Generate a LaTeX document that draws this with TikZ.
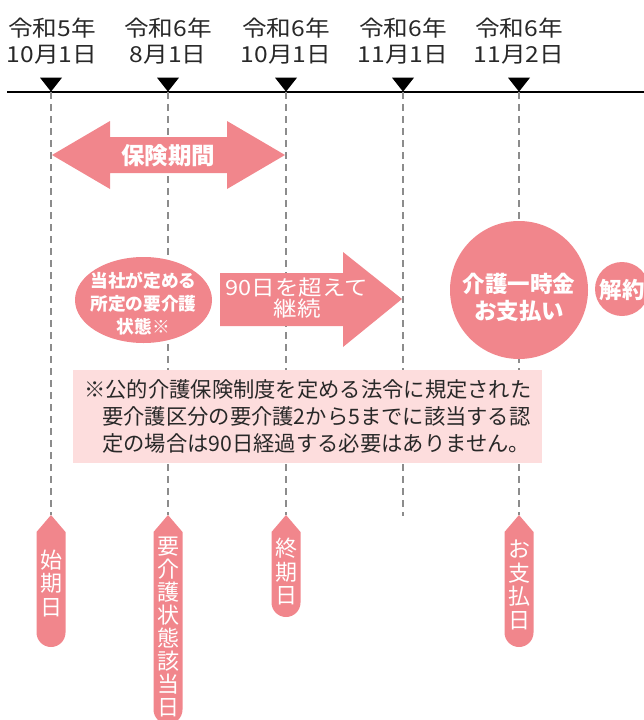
\documentclass[tikz,border=0pt]{standalone}
\usepackage{fontspec}
\setmainfont{Noto Sans CJK JP}
\newfontfamily\widejp[FakeStretch=1.12]{Noto Sans CJK JP}
\usetikzlibrary{shapes.geometric}
\definecolor{pk}{RGB}{241,134,140}
\definecolor{lp}{RGB}{253,221,221}
\definecolor{tx}{RGB}{40,40,40}
\definecolor{dg}{RGB}{140,140,140}
\begin{document}
\begin{tikzpicture}[x=1pt,y=-1pt,
  datelbl/.style={font=\widejp\fontsize{22}{25.5}\selectfont, text=tx, align=center, inner sep=0},
  tri/.style={isosceles triangle, shape border rotate=-90, isosceles triangle stretches, fill=black, minimum width=22pt, minimum height=14pt, inner sep=0},
  guide/.style={draw=dg, line width=1.2pt, dash pattern=on 7pt off 5pt},
  wb/.style={text=white, font=\bfseries\fontsize{22.5}{27}\selectfont, align=center, inner sep=0},
  vtext/.style={text=white, align=center, inner sep=0, font=\fontsize{22}{23.5}\selectfont},
  tagbox/.style={minimum width=29pt, inner sep=0, outer sep=0},
]
\useasboundingbox (0,0) rectangle (644,720);
\clip (0,0) rectangle (644,720);

% axis
\coordinate (a0) at (7,92);
\coordinate (aE) at (644,92);
\coordinate (a1) at (51,92);
\coordinate (a2) at (168,92);
\coordinate (a3) at (286,92);
\coordinate (a4) at (403,92);
\coordinate (a5) at (519,92);
\draw[line width=1.4pt] (a0) -- (aE);

% dates
\node[datelbl] (d1) at (52,41) {令和5年\\10月1日};
\node[datelbl] (d2) at (168,41) {令和6年\\8月1日};
\node[datelbl] (d3) at (286,41) {令和6年\\10月1日};
\node[datelbl] (d4) at (403,41) {令和6年\\11月1日};
\node[datelbl] (d5) at (519,41) {令和6年\\11月2日};

% triangles
\node[tri] (m1) at (51,83) {};
\node[tri] (m2) at (168,83) {};
\node[tri] (m3) at (286,83) {};
\node[tri] (m4) at (403,83) {};
\node[tri] (m5) at (519,83) {};

% tags (invisible frames)
\node[tagbox, minimum height=132pt] (g1) at (51,581) {};
\node[tagbox, minimum height=209pt] (g2) at (168,619.5) {};
\node[tagbox, minimum height=102pt] (g3) at (286,566) {};
\node[tagbox, minimum height=132pt] (g4) at (519,581) {};
\coordinate (e4) at (403,516);

% guides
\draw[guide] (a1) -- (g1.north);
\draw[guide] (a2) -- (g2.north);
\draw[guide] (a3) -- (g3.north);
\draw[guide] (a4) -- (e4);
\draw[guide] (a5) -- (g4.north);

% tag shapes
\foreach \g in {g1,g2,g3,g4}{
  \fill[pk] (\g.north) -- ([yshift=-17pt]\g.north east) -- ([yshift=14.5pt]\g.south east)
    arc[start angle=0, end angle=-180, radius=14.5pt] -- ([yshift=-17pt]\g.north west) -- cycle;
}
\node[vtext] (t1) at ([yshift=-2.5pt]g1.center) {始\\期\\日};
\node[vtext, font=\fontsize{22}{22.9}\selectfont] (t2) at ([yshift=-7.5pt]g2.center) {要\\介\\護\\状\\態\\該\\当\\日};
\node[vtext] (t3) at ([yshift=-6pt]g3.center) {終\\期\\日};
\node[vtext] (t4) at ([yshift=-4pt]g4.center) {お\\支\\払\\日};

% insurance period double arrow
\fill[pk] (52,155) -- (110,121) -- (110,137) -- (227,137) -- (227,121) -- (285,155)
  -- (227,189) -- (227,173) -- (110,173) -- (110,189) -- cycle;
\node[wb, font=\bfseries\fontsize{23.5}{27}\selectfont] (hk) at (168,156) {保険期間};

% ellipse
\node[ellipse, fill=pk, minimum width=137pt, minimum height=86pt, inner sep=0] (el) at (143.5,300) {};
\node[wb, font=\bfseries\fontsize{17.7}{23}\selectfont] (elt) at (143.5,304) {当社が定める\\所定の要介護\\状態{\mdseries ※}};

% right arrow
\fill[pk] (220,273) -- (343,273) -- (343,252) -- (402,299) -- (343,347) -- (343,326) -- (220,326) -- cycle;
\node[text=white, align=center, inner sep=0, font=\widejp\fontsize{21}{20.5}\selectfont] (ar) at (297,298) {90日を超えて\\継続};

% big circle
\node[circle, fill=pk, minimum size=138pt, inner sep=0] (bc) at (519,290) {};
\node[wb] (bct) at (519,297) {介護一時金\\お支払い};

% small circle
\node[circle, fill=pk, minimum size=54pt, inner sep=0] (sc) at (622,289) {};
\node[wb] (sct) at (622,290) {解約};

% note box
\node[fill=lp, minimum width=469pt, minimum height=93pt, inner sep=0] (nb) at (307.5,416.5) {};
\node[anchor=west, align=left, text=tx, inner sep=0, font=\fontsize{21.3}{27}\selectfont] (nt) at (84,416) {※公的介護保険制度を定める法令に規定された\\\hspace*{18pt}要介護区分の要介護2から5までに該当する認\\\hspace*{18pt}定の場合は90日経過する必要はありません。};
\end{tikzpicture}
\end{document}
